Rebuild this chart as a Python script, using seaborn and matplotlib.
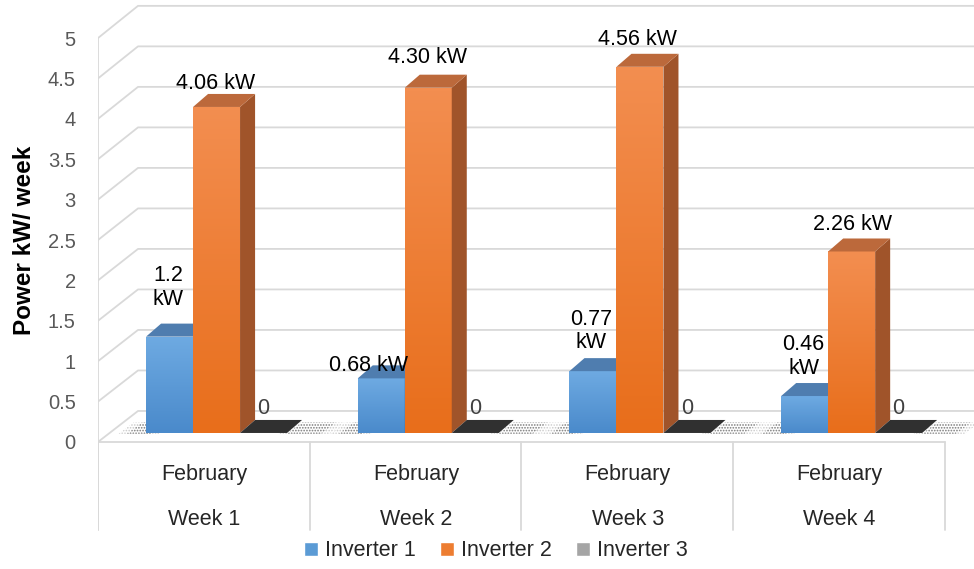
import numpy as np
import pandas as pd
import matplotlib
matplotlib.use("Agg")
import matplotlib.pyplot as plt
from matplotlib.patches import Polygon
from matplotlib.colors import LinearSegmentedColormap
import seaborn as sns

# ---- data -------------------------------------------------------------
month = "February"
weeks = ["Week 1", "Week 2", "Week 3", "Week 4"]
inverters = ["Inverter 1", "Inverter 2", "Inverter 3"]
inverter1 = [1.2, 0.68, 0.77, 0.46]
inverter2 = [4.06, 4.30, 4.56, 2.26]
inverter3 = [0, 0, 0, 0]
y_ticks = [0, 0.5, 1, 1.5, 2, 2.5, 3, 3.5, 4, 4.5, 5]

# ---- style ------------------------------------------------------------
sns.set_style("white")
plt.rcParams["font.family"] = ["Liberation Sans", "DejaVu Sans"]
plt.rcParams["hatch.linewidth"] = 0.8

colors = ["#5B9BD5", "#ED7D31", "#A5A5A5"]
front_grad = [("#6EAAE2", "#4A8ACB"), ("#F38E50", "#E86E1B"), ("#3A3A3A", "#2A2A2A")]
top_col = ["#4F7DAF", "#BC693B", "#303030"]
side_col = ["#3E6E9E", "#A0542A", "#2A2A2A"]
grid_col = "#D9D9D9"

# 3-D look: depth offsets (x in category units, y in value units)
DX, DY = 0.071, 0.162
# front plane of the walls sits slightly below the bar bases
front = lambda v: -0.112 + 1.006 * v
back = lambda v: 0.274 + 1.009 * v
X_LEFT, X_BACK, X_RIGHT, X_FLOOR_END = -0.560, -0.371, 3.578, 3.441

fig = plt.figure(figsize=(9.74, 5.69), dpi=100)
ax = fig.add_axes([98 / 974, 0, 876 / 974, 1])

df = pd.DataFrame({
    "week": weeks * 3,
    "inverter": np.repeat(inverters, len(weeks)),
    "power": inverter1 + inverter2 + inverter3,
})
sns.barplot(data=df, x="week", y="power", hue="inverter", palette=colors,
            saturation=1, width=0.666, ax=ax, legend=True, zorder=3)
legend_handles, legend_labels = ax.get_legend_handles_labels()
ax.get_legend().remove()

# ---- walls and floor ----------------------------------------------------
for v in y_ticks:
    ax.plot([X_LEFT, X_BACK, X_RIGHT], [front(v), back(v), back(v)],
            color=grid_col, lw=1.3, zorder=1, solid_capstyle="butt")
ax.plot([X_LEFT, X_LEFT], [front(5), -1.21], color=grid_col, lw=1.3, zorder=1)
ax.plot([X_LEFT, X_FLOOR_END], [front(0), front(0)], color=grid_col, lw=1.3, zorder=1)
for i in range(len(weeks) + 1):
    xs = X_LEFT + i * 1.0
    ax.plot([xs, xs], [front(0), -1.21], color=grid_col, lw=1.3, zorder=1)

# ---- bars with depth ------------------------------------------------------
def gradient_in(patch, top, bottom, z):
    x0, y0 = patch.get_x(), patch.get_y()
    w, h = patch.get_width(), patch.get_height()
    if h <= 0:
        return
    cmap = LinearSegmentedColormap.from_list("g", [bottom, top])
    im = ax.imshow(np.linspace(0, 1, 64)[:, None], cmap=cmap, origin="lower",
                   extent=(x0, x0 + w, y0, y0 + h), aspect="auto",
                   interpolation="bilinear", zorder=z)
    im.set_clip_path(patch)

def floor_shadow(xa, xb):
    # speckled drop shadow lying on the floor
    for alpha, grow in ((0.6, 0.0), (0.3, 0.04)):
        sh = Polygon([(xa - grow, -0.01), (xb + grow, -0.01),
                      (xb + grow + DX, DY * 0.8), (xa - grow + DX, DY * 0.8)],
                     closed=True, facecolor="none", edgecolor="#5a5a5a",
                     hatch="......", lw=0, alpha=alpha, zorder=2)
        ax.add_patch(sh)

for k, cont in enumerate(ax.containers):
    z = 3 + k
    for p in cont.patches:
        x0, w, h = p.get_x(), p.get_width(), p.get_height()
        x1 = x0 + w
        p.set_zorder(z)
        p.set_edgecolor("none")
        if k == 0:
            floor_shadow(x0 - 0.09, x0 + 0.02)
            floor_shadow(x0 + 3 * w, x0 + 3 * w + 0.16)
        gradient_in(p, front_grad[k][0], front_grad[k][1], z)
        # side face
        side = Polygon([(x1, 0), (x1 + DX, DY), (x1 + DX, h + DY), (x1, h)],
                       closed=True, facecolor=side_col[k], edgecolor="none", zorder=z)
        ax.add_patch(side)
        # top face
        top = Polygon([(x0, h), (x1, h), (x1 + DX, h + DY), (x0 + DX, h + DY)],
                      closed=True, facecolor=top_col[k], edgecolor="none", zorder=z)
        ax.add_patch(top)

# ---- value labels ---------------------------------------------------------
wrap1 = [True, False, True, True]
lab1_dx = [-0.007, -0.06, -0.01, -0.005]
lab1_dy = [0.61, 0.16, 0.50, 0.49]
lab2_dx = [-0.007, -0.005, -0.014, 0.005]
lab2_dy = [0.29, 0.37, 0.34, 0.34]
value_fs = 15.5

c1, c2, c3 = ax.containers
for i in range(len(weeks)):
    p = c1.patches[i]
    xc = p.get_x() + p.get_width() / 2
    v = inverter1[i]
    txt = f"{v:g}" + ("\nkW" if wrap1[i] else " kW")
    ax.text(xc + lab1_dx[i], v + lab1_dy[i], txt, ha="center", va="center",
            fontsize=value_fs, color="#000000", linespacing=1.15, zorder=10)

    p = c2.patches[i]
    xc = p.get_x() + p.get_width() / 2
    v = inverter2[i]
    ax.text(xc + lab2_dx[i], v + lab2_dy[i], f"{v:.2f} kW", ha="center", va="center",
            fontsize=value_fs, color="#000000", zorder=10)

    p = c3.patches[i]
    xc = p.get_x() + p.get_width() / 2
    v = inverter3[i]
    ax.text(xc, v + 0.31, f"{v:g}", ha="center", va="center",
            fontsize=value_fs, color="#404040", zorder=10)

# ---- category labels ----------------------------------------------------------
for i, w in enumerate(weeks):
    ax.text(i - 0.058, -0.511, month, ha="center", va="center",
            fontsize=15.5, color="#262626")
    ax.text(i - 0.058, -1.083, w, ha="center", va="center",
            fontsize=15.5, color="#262626")

# ---- axes ------------------------------------------------------------------
ax.set_xlim(X_LEFT, X_RIGHT)
ax.set_ylim(-1.694, 5.392)
ax.set_xticks([])
ax.set_yticks([front(v) for v in y_ticks])
ax.set_yticklabels([f"{v:g}" for v in y_ticks], fontsize=14.5, color="#595959")
ax.tick_params(axis="y", length=0, pad=16)
ax.set_xlabel("")
ax.set_ylabel("")
for s in ax.spines.values():
    s.set_visible(False)

fig.text(25 / 974, 1 - 240 / 569, "Power kW/ week", rotation=90, ha="center",
         va="center", fontsize=17.5, fontweight="bold", color="#000000")

fig.legend(legend_handles, legend_labels, loc="center", bbox_to_anchor=(496 / 974, 1 - 551 / 569),
           ncol=3, frameon=False, fontsize=15.5, handlelength=0.65, handleheight=0.65,
           handletextpad=0.35, columnspacing=1.1, labelcolor="#262626")

fig.savefig("out.png", dpi=100)
